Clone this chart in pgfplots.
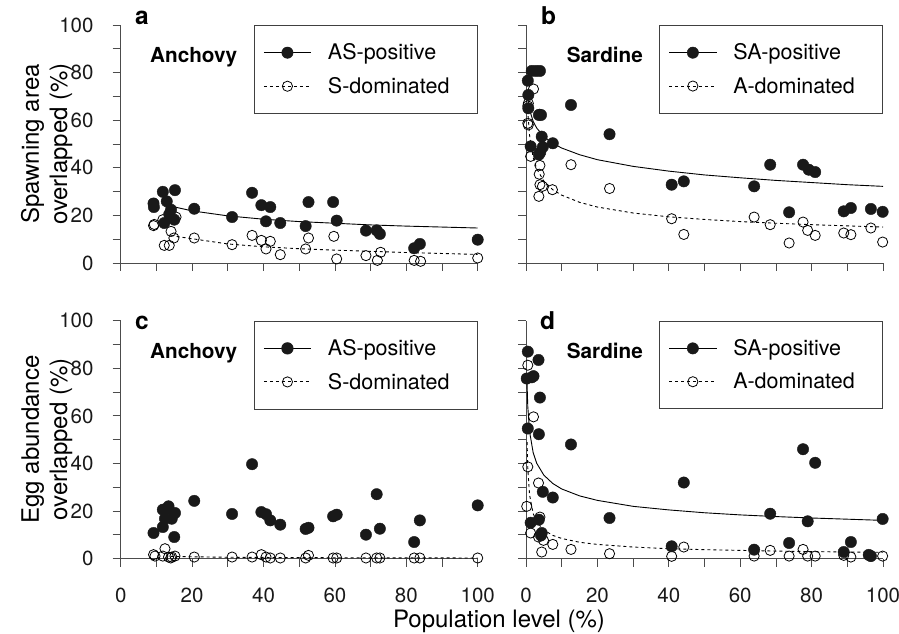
\documentclass[border=0pt]{standalone}
\usepackage{fontspec}
\setmainfont{TeX Gyre Heros}
\usepackage{pgfplots}
\pgfplotsset{compat=1.18}

\definecolor{axisgray}{gray}{0.3}
\definecolor{dotblack}{gray}{0.1}

\pgfplotsset{
  panel/.style={
    scale only axis, width=357pt, height=238pt,
    xmin=0, xmax=100, ymin=0, ymax=100,
    axis x line*=bottom, axis y line*=left,
    axis line style={axisgray, line width=0.8pt, -},
    xtick={0,20,...,100}, minor xtick={10,30,...,90},
    ytick={0,20,...,100}, minor ytick={10,30,...,90},
    tick align=outside, major tick length=8pt, minor tick length=8pt,
    every tick/.style={axisgray, line width=0.8pt},
    every minor tick/.style={axisgray, line width=0.8pt},
    /pgf/number format/assume math mode=true,
    ticklabel style={font=\fontsize{20.5}{23}\selectfont, black!90},
    xticklabel style={inner sep=0pt, anchor=north, yshift=-21pt},
    yticklabel style={inner sep=0pt, anchor=east, xshift=-19pt},
    clip=false,
    legend image code/.code={
      \draw[mark repeat=2, mark phase=2, ##1] plot coordinates {(0pt,0pt) (23.65pt,0pt) (47.3pt,0pt)};
    },
    legend style={at={(1,1)}, anchor=north east, draw=black!75, line width=0.8pt,
      fill=white, inner xsep=9.3pt, inner ysep=16.5pt,
      font=\fontsize{21.5}{24}\selectfont,
      cells={anchor=west, inner sep=0pt},
      /tikz/column sep=14.4pt, /tikz/row sep=12pt},
  },
  noxlabels/.style={xticklabels={}},
  noylabels/.style={yticklabels={}},
  pos/.style={only marks, mark=*, mark size=5.7pt,
    mark options={draw=dotblack, fill=dotblack, line width=0.4pt}, forget plot},
  neg/.style={only marks, mark=o, mark size=5.1pt,
    mark options={draw=black, line width=0.8pt}, forget plot},
  fitsolid/.style={no marks, black, line width=0.9pt, forget plot},
  fitdash/.style={no marks, black, line width=0.9pt, dash pattern=on 3pt off 3pt, forget plot},
  legsolid/.style={black, line width=0.9pt, mark=*, mark size=5.7pt,
    mark options={solid, draw=dotblack, fill=dotblack, line width=0.4pt}},
  legdash/.style={black, line width=0.9pt, dash pattern=on 3pt off 3pt, mark=o, mark size=5.1pt,
    mark options={solid, draw=black, line width=0.8pt}},
}

\newcommand{\panelletter}[2]{\node[anchor=base west, inner sep=0pt, font=\fontsize{24.5}{26}\selectfont\bfseries] at #1 {#2};}
\newcommand{\species}[2]{\node[anchor=base west, inner sep=0pt, font=\fontsize{20.7}{24}\selectfont\bfseries] at #1 {#2};}

\begin{document}
\begin{tikzpicture}
\useasboundingbox (0pt,0pt) rectangle (899pt,634pt);

% ---------- a: spawning area, anchovy
\begin{axis}[panel, noxlabels, at={(120.7pt,371pt)}, anchor=south west]
\addlegendimage{legsolid}
\addlegendentry{AS-positive}
\addlegendimage{legdash}
\addlegendentry{S-dominated\hspace*{16.5pt}}
\addplot[neg] coordinates {
 (9.2,15.7) (9.4,16.2) (11.8,18.2) (15.5,19.3) (14.1,13.3) (14.9,10.5) (12.2,7.4) (13.6,7.4)
 (20.6,10.5) (31.2,7.7) (36.8,11.6) (39.4,9.5) (41.9,9.1) (40.7,5.9) (44.7,3.5) (51.8,5.9)
 (52.6,10.5) (59.7,11.2) (60.5,1.7) (68.7,3.1) (71.9,1.1) (72.8,4.5) (82.2,1.1) (84.0,0.7) (100,2.1)
};
\addplot[pos] coordinates {
 (9.2,25.0) (9.3,23.5) (11.8,29.9) (12.9,25.9) (15.2,30.6) (14.1,22.4) (13.6,20.5) (15.0,18.2)
 (12.2,16.8) (20.6,22.8) (31.2,19.3) (36.8,29.5) (39.4,24.3) (41.9,23.5) (40.7,17.5) (44.7,16.8)
 (51.8,15.5) (52.6,25.6) (59.5,25.6) (60.5,17.8) (68.7,13.6) (71.7,13.7) (72.6,12.2) (82.2,6.2)
 (83.8,8.0) (100,9.8)
};
\addplot[fitsolid] coordinates {
 (14,23.9) (20,21.9) (30,19.8) (40,18.4) (50,17.4) (60,16.7) (70,16.0) (80,15.5) (90,15.1) (100,14.7)
};
\addplot[fitdash] coordinates {
 (14,11.5) (20,10.2) (30,8.0) (40,6.8) (50,6.0) (60,5.4) (70,4.9) (80,4.4) (90,4.0) (100,3.6)
};
\panelletter{(rel axis cs:0.040,1)}{a}
\species{(rel axis cs:0.082,0.841)}{Anchovy}
\end{axis}

% ---------- b: spawning area, sardine
\begin{axis}[panel, noxlabels, noylabels, at={(526pt,371pt)}, anchor=south west]
\addlegendimage{legsolid}
\addlegendentry{SA-positive}
\addlegendimage{legdash}
\addlegendentry{A-dominated\hspace*{16.5pt}}
\addplot[neg] coordinates {
 (2.1,73.1) (0.65,67.1) (0.5,66.0) (0.5,58.7) (0.65,58.0) (3.8,62.5) (1.3,44.8) (3.9,41.0)
 (3.7,37.3) (4.6,32.2) (3.9,32.9) (3.6,28.0) (7.4,30.8) (12.6,41.3) (23.4,31.3) (40.8,18.6)
 (44.2,12.0) (63.9,19.3) (68.4,16.1) (73.7,8.4) (77.6,17.2) (78.9,13.7) (81.0,11.6) (89.0,12.6)
 (91.0,11.9) (96.6,14.7) (99.9,8.8)
};
\addplot[pos] coordinates {
 (1.6,80.7) (2.8,80.7) (3.9,80.7) (0.5,76.6) (0.65,70.6) (0.65,65.0) (3.6,62.2) (4.2,62.2)
 (4.4,53.1) (1.3,49.0) (3.6,45.5) (4.7,48.7) (4.0,46.5) (7.5,50.3) (12.6,66.4) (23.4,54.1)
 (40.8,32.9) (44.2,34.3) (63.9,32.2) (68.4,41.3) (77.6,41.3) (79.2,39.2) (81.0,38.2) (73.7,21.3)
 (89.0,21.7) (91.0,23.1) (96.6,22.7) (99.9,21.5)
};
\addplot[fitsolid] coordinates {
 (0.5,69.2) (1,64.4) (2,59.5) (3,56.7) (5,53.1) (7.5,50.3) (10,48.3) (15,45.5) (20,43.4)
 (30,40.6) (40,38.6) (50,37.0) (60,35.8) (70,34.7) (80,33.8) (90,32.9) (100,32.2)
};
\addplot[fitdash] coordinates {
 (0.6,61.7) (1,53.6) (2,44.3) (3,39.6) (5,34.4) (7.5,30.8) (10,28.5) (15,25.5) (20,23.5)
 (30,21.0) (40,19.4) (50,18.3) (60,17.4) (70,16.7) (80,16.1) (90,15.6) (100,15.1)
};
\panelletter{(rel axis cs:0.042,1)}{b}
\species{(rel axis cs:0.114,0.841)}{Sardine}
\end{axis}

% ---------- c: egg abundance, anchovy
\begin{axis}[panel, at={(120.7pt,75.3pt)}, anchor=south west]
\addlegendimage{legend image code/.code={
  \path (0pt,0pt) -- (47.3pt,0pt);
  \fill[dotblack] (23.65pt,0pt) circle[radius=5.7pt];}}
\addlegendentry{AS-positive}
\addlegendimage{legdash}
\addlegendentry{S-dominated\hspace*{16.5pt}}
\addplot[neg] coordinates {
 (9.2,1.7) (9.6,1.1) (12.4,4.2) (11.8,1.1) (13.4,0.7) (14.3,0.7) (15.2,1.1) (14.0,0.3)
 (20.6,0.7) (31.2,0.7) (36.8,0.7) (39.4,1.7) (40.7,0.7) (41.9,0.3) (44.7,0.3) (51.8,0.3)
 (52.6,1.4) (59.5,0.3) (60.5,0.3) (68.7,0.3) (71.7,0.3) (72.6,0.3) (82.2,0.3) (83.8,0.3) (100,0.3)
};
\addplot[pos] coordinates {
 (9.2,10.8) (11.8,13.3) (11.8,20.6) (13.4,22.0) (12.4,16.8) (14.3,16.8) (15.2,19.2) (15.0,9.1)
 (12.9,21.0) (20.6,24.3) (31.2,18.8) (36.8,39.7) (39.4,19.6) (40.7,18.7) (41.9,16.1) (44.7,14.3)
 (51.8,12.5) (52.6,13.0) (59.5,17.8) (60.5,18.5) (68.7,10.1) (71.7,27.1) (72.6,12.6) (82.2,7.0)
 (83.8,16.1) (100,22.4)
};
\addplot[fitdash] coordinates {
 (14,1.0) (20,0.8) (30,0.6) (45,0.5) (60,0.4) (80,0.35) (100,0.3)
};
\panelletter{(rel axis cs:0.040,0.964)}{c}
\species{(rel axis cs:0.082,0.843)}{Anchovy}
\end{axis}

% ---------- d: egg abundance, sardine
\begin{axis}[panel, noylabels, at={(526pt,75.3pt)}, anchor=south west]
\addlegendimage{legsolid}
\addlegendentry{SA-positive}
\addlegendimage{legdash}
\addlegendentry{A-dominated\hspace*{16.5pt}}
\addplot[neg] coordinates {
 (0.5,81.3) (2.1,59.6) (0.5,38.6) (3.5,31.8) (0.2,22.0) (1.3,10.8) (3.9,17.5) (3.5,9.1)
 (4.9,7.7) (4.4,2.8) (7.5,6.0) (12.6,3.9) (23.4,2.1) (40.8,1.0) (44.2,4.9) (63.9,1.1)
 (68.4,3.5) (73.7,1.1) (77.6,3.9) (78.9,1.1) (81.0,1.1) (89.0,1.4) (91.0,0.7) (96.6,1.1) (99.9,1.1)
};
\addplot[pos] coordinates {
 (0.5,87.0) (3.5,83.5) (0.2,75.7) (2.1,76.7) (1.6,76.2) (3.9,67.7) (0.5,54.7) (3.6,52.3)
 (12.6,48.0) (44.2,32.0) (4.7,28.1) (7.5,25.7) (23.4,17.1) (1.3,15.1) (3.6,16.4) (4.4,10.8)
 (4.2,9.8) (40.8,5.2) (63.9,3.8) (68.4,18.9) (73.7,6.6) (77.6,46.0) (81.0,40.3) (78.9,15.7)
 (89.0,2.8) (91.0,7.0) (96.6,1.1) (96.0,1.6) (99.9,16.7)
};
\addplot[fitsolid] coordinates {
 (0.25,76.5) (0.3,73.0) (0.5,63.9) (1,53.4) (2,44.6) (3,40.1) (5,35.1) (7.5,31.6) (10,29.3)
 (15,26.4) (20,24.5) (30,22.0) (40,20.5) (50,19.3) (60,18.4) (70,17.7) (80,17.1) (90,16.6) (100,16.1)
};
\addplot[fitdash] coordinates {
 (0.3,49.0) (0.5,38.0) (1,26.8) (2,19.0) (3,15.5) (5,12.0) (7.5,9.8) (10,8.5) (15,6.9)
 (20,6.0) (30,4.9) (40,4.2) (50,3.8) (60,3.5) (70,3.2) (80,3.0) (90,2.8) (100,2.7)
};
\panelletter{(rel axis cs:0.039,0.964)}{d}
\species{(rel axis cs:0.114,0.843)}{Sardine}
\end{axis}

% ---------- shared labels
\node[rotate=90, anchor=base, inner sep=0pt, font=\fontsize{24}{28}\selectfont] at (39pt,490pt) {Spawning area};
\node[rotate=90, anchor=base, inner sep=0pt, font=\fontsize{24}{28}\selectfont] at (67pt,490pt) {overlapped (\%)};
\node[rotate=90, anchor=base, inner sep=0pt, font=\fontsize{24}{28}\selectfont] at (39pt,194.5pt) {Egg abundance};
\node[rotate=90, anchor=base, inner sep=0pt, font=\fontsize{24}{28}\selectfont] at (67pt,194.5pt) {overlapped (\%)};
\node[anchor=base, inner sep=0pt, font=\fontsize{24}{28}\selectfont] at (499pt,6.2pt) {Population level (\%)};
\end{tikzpicture}
\end{document}
